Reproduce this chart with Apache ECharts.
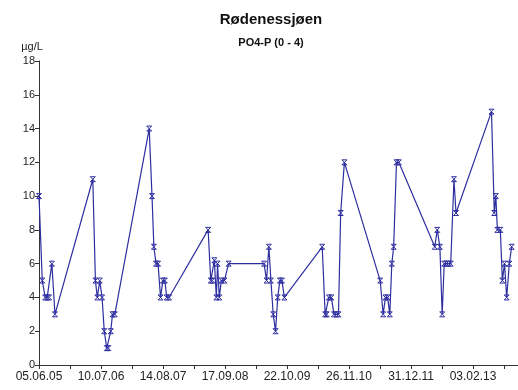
<!DOCTYPE html>
<html>
<head>
<meta charset="utf-8">
<script src="https://cdn.jsdelivr.net/npm/echarts@6/dist/echarts.min.js"></script>
<style>
  html, body { margin: 0; padding: 0; background: #fff; }
  #chart { width: 518px; height: 390px; }
</style>
</head>
<body>
<div id="chart"></div>
<script>
var startDate = '2005-06-05';

var sampleDates = [
  '2005-06-05','2005-06-26','2005-07-15','2005-07-28','2005-08-09','2005-08-27','2005-09-16',
  '2006-05-18','2006-06-04','2006-06-16','2006-07-02','2006-07-17','2006-07-31','2006-08-16',
  '2006-08-26','2006-09-11','2006-09-22','2006-10-07',
  '2007-05-17','2007-06-04','2007-06-16','2007-06-30','2007-07-13','2007-07-29','2007-08-13',
  '2007-08-26','2007-09-07','2007-09-22',
  '2008-05-31','2008-06-17','2008-06-27','2008-07-10','2008-07-23','2008-07-31','2008-08-11',
  '2008-08-24','2008-09-13','2008-10-10',
  '2009-05-27','2009-06-12','2009-06-27','2009-07-10','2009-07-25','2009-08-09','2009-08-23',
  '2009-09-06','2009-09-19','2009-10-05',
  '2010-06-06','2010-06-25','2010-07-05','2010-07-19','2010-08-04','2010-08-21','2010-09-06',
  '2010-09-19','2010-10-03','2010-10-27',
  '2011-06-15','2011-07-04','2011-07-19','2011-08-02','2011-08-16','2011-08-29','2011-09-10',
  '2011-09-28','2011-10-13',
  '2012-06-01','2012-06-17','2012-07-04','2012-07-19','2012-08-01','2012-08-15','2012-08-28',
  '2012-09-12','2012-10-03','2012-10-16',
  '2013-06-02','2013-06-20','2013-06-30','2013-07-10','2013-07-29','2013-08-11','2013-08-25',
  '2013-09-08','2013-09-25','2013-10-10'
];

var po4Values = [
  10, 5, 4, 4, 4, 6, 3,
  11, 5, 4, 5, 4, 2, 1, 1, 2, 3, 3,
  14, 10, 7, 6, 6, 4, 5, 5, 4, 4,
  8, 5, 5, 6.2, 4, 6, 4, 5, 5, 6,
  6, 5, 7, 5, 3, 2, 4, 5, 5, 4,
  7, 3, 3, 4, 4, 3, 3, 3, 9, 12,
  5, 3, 4, 4, 3, 6, 7, 12, 12,
  7, 8, 7, 3, 6, 6, 6, 6, 11, 9,
  15, 9, 10, 8, 8, 5, 6, 4, 6, 7
];

var yTicks = [0, 2, 4, 6, 8, 10, 12, 14, 16, 18];

var DAY = 86400000;
var t0 = Date.parse(startDate);

function pad(n) { return (n < 10 ? '0' : '') + n; }
function dayLabel(d) {
  var dt = new Date(t0 + d * DAY);
  return pad(dt.getUTCDate()) + '.' + pad(dt.getUTCMonth() + 1) + '.' + pad(dt.getUTCFullYear() % 100);
}

var seriesData = [];
for (var i = 0; i < sampleDates.length; i++) {
  seriesData.push([(Date.parse(sampleDates[i]) - t0) / DAY, po4Values[i]]);
}

var chart = echarts.init(document.getElementById('chart'));

var option = {
  animation: false,
  textStyle: { fontFamily: 'Liberation Sans' },
  title: [
    {
      text: 'Rødenessjøen',
      left: 266, top: 7, textAlign: 'center',
      textStyle: { fontSize: 15, fontWeight: 'bold', color: '#111', fontFamily: 'Liberation Sans' }
    },
    {
      text: 'PO4-P (0 - 4)',
      left: 266, top: 32, textAlign: 'center',
      textStyle: { fontSize: 11, fontWeight: 'bold', color: '#111', fontFamily: 'Liberation Sans' }
    }
  ],
  grid: { left: 39, top: 61, right: 0, bottom: 25, containLabel: false },
  xAxis: {
    type: 'value',
    min: 0, max: 3090, interval: 200,
    axisLine: { show: true, lineStyle: { color: '#333', width: 1 } },
    axisTick: { show: true, length: 4, lineStyle: { color: '#333' } },
    splitLine: { show: false },
    axisLabel: {
      color: '#222', fontSize: 12, margin: 6, showMaxLabel: false,
      formatter: function (v) { return v % 400 === 0 ? dayLabel(v) : ''; }
    }
  },
  yAxis: {
    type: 'value',
    min: yTicks[0], max: yTicks[yTicks.length - 1], interval: 2,
    name: 'µg/L',
    nameLocation: 'end',
    nameGap: 9,
    nameTextStyle: { color: '#222', fontSize: 11, padding: [0, 14, 0, 0] },
    axisLine: { show: true, lineStyle: { color: '#333', width: 1 } },
    axisTick: { show: true, length: 4, lineStyle: { color: '#333' } },
    splitLine: { show: false },
    axisLabel: { color: '#222', fontSize: 11, margin: 4 }
  },
  series: [
    {
      name: 'PO4-P',
      type: 'line',
      data: seriesData,
      symbol: 'path://M0,0L8,0L0,8L8,8Z',
      symbolSize: 5,
      showAllSymbol: true,
      lineStyle: { color: '#2e2ea0', width: 1.2 },
      itemStyle: { color: 'rgba(0,0,0,0)', borderColor: '#2e2ea0', borderWidth: 1 }
    }
  ]
};

chart.setOption(option);
</script>
</body>
</html>
